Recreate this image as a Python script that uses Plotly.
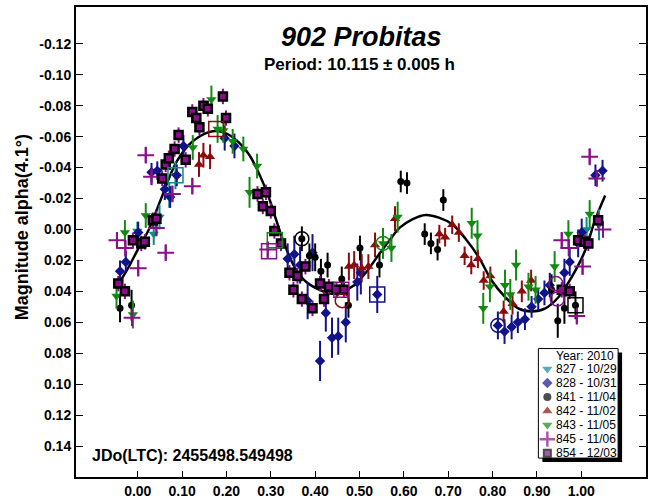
import plotly.graph_objects as go

# session data: (phase, magnitude, error)
s827 = [(-0.001, 0.001, 0.006), (0.036, 0.003, 0.007), (0.049, -0.008, 0.008), (0.071, -0.022, 0.008),
        (0.085, -0.035, 0.009), (1.012, 0.000, 0.008), (1.040, -0.003, 0.010)]

s828 = [(-0.040, 0.027, 0.007), (-0.027, 0.021, 0.007), (0.001, 0.002, 0.007), (0.031, -0.037, 0.006),
        (0.044, -0.038, 0.006), (0.061, -0.026, 0.007), (0.073, -0.021, 0.007), (0.088, -0.035, 0.007),
        (0.103, -0.054, 0.007), (0.196, -0.059, 0.008), (0.218, -0.054, 0.008), (0.338, 0.019, 0.010),
        (0.353, 0.016, 0.012), (0.366, 0.023, 0.012), (0.383, 0.046, 0.012), (0.394, 0.015, 0.012),
        (0.411, 0.085, 0.013), (0.424, 0.054, 0.012), (0.438, 0.070, 0.013), (0.452, 0.069, 0.012),
        (0.469, 0.060, 0.013), (0.495, 0.034, 0.012), (0.503, 0.028, 0.014), (0.540, 0.042, 0.012),
        (0.812, 0.062, 0.009), (0.827, 0.066, 0.008), (0.843, 0.063, 0.008), (0.857, 0.060, 0.007),
        (0.873, 0.058, 0.007), (0.888, 0.050, 0.007), (0.903, 0.045, 0.007), (0.917, 0.041, 0.008),
        (0.929, 0.036, 0.008), (0.962, 0.028, 0.009), (0.974, 0.021, 0.009), (0.993, 0.009, 0.009),
        (1.001, 0.002, 0.009), (1.032, -0.035, 0.007), (1.048, -0.038, 0.007)]

s841 = [(-0.040, 0.051, 0.009), (-0.014, 0.049, 0.010), (0.370, 0.006, 0.008), (0.387, 0.017, 0.008),
        (0.400, 0.018, 0.009), (0.413, 0.027, 0.008), (0.428, 0.023, 0.008), (0.460, 0.032, 0.008),
        (0.475, 0.049, 0.008), (0.501, 0.012, 0.008), (0.545, 0.023, 0.008), (0.593, -0.031, 0.007),
        (0.607, -0.030, 0.007), (0.647, 0.003, 0.007), (0.661, 0.009, 0.007), (0.676, 0.013, 0.007),
        (0.689, -0.019, 0.007), (0.933, 0.039, 0.010), (0.947, 0.059, 0.011), (0.962, 0.051, 0.010),
        (0.987, 0.049, 0.009)]

s842 = [(0.138, -0.042, 0.008), (0.148, -0.048, 0.008), (0.163, -0.047, 0.008), (0.476, 0.024, 0.009),
        (0.488, 0.023, 0.009), (0.505, 0.025, 0.009), (0.520, 0.024, 0.008), (0.535, 0.010, 0.008),
        (0.580, -0.007, 0.008), (0.680, 0.003, 0.006), (0.693, 0.005, 0.006), (0.709, -0.003, 0.006),
        (0.724, 0.002, 0.006), (0.737, 0.017, 0.006), (0.752, 0.023, 0.006), (0.767, 0.019, 0.006),
        (0.780, 0.033, 0.006), (0.795, 0.030, 0.006), (0.825, 0.053, 0.007), (0.845, 0.048, 0.007),
        (0.866, 0.040, 0.007), (0.887, 0.033, 0.007)]

s843 = [(-0.048, 0.043, 0.008), (-0.029, 0.002, 0.008), (-0.011, 0.055, 0.009), (0.018, -0.009, 0.008),
        (0.124, -0.053, 0.008), (0.166, -0.084, 0.009), (0.180, -0.065, 0.009), (0.193, -0.064, 0.008),
        (0.214, -0.057, 0.008), (0.238, -0.052, 0.008), (0.252, -0.024, 0.010), (0.269, -0.041, 0.008),
        (0.553, 0.009, 0.010), (0.572, 0.012, 0.009), (0.586, -0.008, 0.010), (0.753, -0.004, 0.010),
        (0.766, 0.004, 0.010), (0.779, 0.051, 0.010), (0.794, 0.037, 0.010), (0.828, 0.036, 0.010),
        (0.840, 0.042, 0.010), (0.853, 0.023, 0.010), (0.881, 0.037, 0.009), (0.897, 0.039, 0.009),
        (0.940, 0.024, 0.010), (0.971, 0.003, 0.009), (1.019, -0.010, 0.009)]

s845 = [(-0.047, 0.007, 0.005), (-0.028, 0.012, 0.005), (-0.013, 0.057, 0.005), (0.001, 0.025, 0.005),
        (0.018, -0.048, 0.005), (0.031, -0.034, 0.005), (0.042, -0.001, 0.005), (0.063, 0.015, 0.005),
        (0.078, -0.023, 0.005), (0.123, -0.028, 0.005), (0.293, 0.013, 0.005), (0.956, 0.007, 0.005),
        (0.972, 0.012, 0.005), (0.990, 0.056, 0.005), (1.003, 0.024, 0.005), (1.019, -0.047, 0.005),
        (1.035, -0.033, 0.005), (1.049, 0.000, 0.005)]

s854 = [(-0.044, 0.035, 0.005), (-0.029, 0.040, 0.005), (-0.011, 0.007, 0.005), (0.008, 0.009, 0.005),
        (0.016, 0.008, 0.005), (0.034, -0.006, 0.005), (0.042, -0.007, 0.005), (0.055, -0.033, 0.005),
        (0.063, -0.042, 0.005), (0.070, -0.046, 0.005), (0.083, -0.052, 0.005), (0.092, -0.061, 0.005),
        (0.108, -0.045, 0.005), (0.123, -0.076, 0.005), (0.132, -0.072, 0.005), (0.139, -0.066, 0.005),
        (0.148, -0.080, 0.005), (0.158, -0.078, 0.005), (0.192, -0.086, 0.005), (0.199, -0.072, 0.005),
        (0.270, -0.023, 0.005), (0.282, -0.015, 0.005), (0.289, -0.024, 0.005), (0.300, -0.012, 0.005),
        (0.308, 0.001, 0.005), (0.323, 0.009, 0.005), (0.342, 0.028, 0.005), (0.351, 0.039, 0.005),
        (0.360, 0.030, 0.005), (0.370, 0.045, 0.005), (0.378, 0.024, 0.005), (0.394, 0.051, 0.005),
        (0.411, 0.035, 0.005), (0.420, 0.045, 0.005), (0.431, 0.037, 0.005), (0.448, 0.039, 0.005),
        (0.465, 0.039, 0.005), (0.956, 0.039, 0.005), (0.974, 0.040, 0.005), (0.993, 0.007, 0.005),
        (1.008, 0.008, 0.005), (1.016, 0.009, 0.005), (1.038, -0.006, 0.005)]

# larger open marks drawn round some points: (session, phase, magnitude)
box_marks = [("827", 0.085, -0.035), ("842", 0.177, -0.065), ("845", 0.296, 0.014), ("843", 0.309, 0.007),
             ("854", 0.459, 0.039), ("828", 0.540, 0.042), ("841", 0.987, 0.049)]
ring_marks = [("841", 0.370, 0.006), ("842", 0.461, 0.046), ("843", 0.553, 0.009), ("828", 0.812, 0.062),
              ("845", 0.943, 0.035), ("845", 0.946, 0.045)]

# fitted curve
fit_phase = [-0.045, -0.02, 0.0, 0.025, 0.05, 0.088, 0.124, 0.169, 0.20, 0.229, 0.252, 0.29, 0.31, 0.33,
             0.355, 0.38, 0.41, 0.438, 0.461, 0.488, 0.515, 0.544, 0.573, 0.59, 0.619, 0.649, 0.679, 0.709,
             0.739, 0.769, 0.798, 0.828, 0.858, 0.888, 0.919, 0.948, 0.978, 1.009, 1.031, 1.054]
fit_mag = [0.036, 0.024, 0.013, 0.000, -0.018, -0.044, -0.057, -0.0635, -0.062, -0.056, -0.048, -0.025,
           -0.008, 0.009, 0.025, 0.034, 0.039, 0.0415, 0.040, 0.036, 0.0276, 0.016, 0.005, -0.001, -0.0066,
           -0.0094, -0.0077, -0.0034, 0.006, 0.018, 0.033, 0.0436, 0.051, 0.053, 0.051, 0.044, 0.031,
           0.0135, -0.006, -0.022]

sessions = ["827", "828", "841", "842", "843", "845", "854"]
session_dates = ["10/29", "10/31", "11/04", "11/02", "11/05", "11/06", "12/03"]
session_data = [s827, s828, s841, s842, s843, s845, s854]

x_ticks = [0.0, 0.1, 0.2, 0.3, 0.4, 0.5, 0.6, 0.7, 0.8, 0.9, 1.0]
x_labels = ["0.00", "0.10", "0.20", "0.30", "0.40", "0.50", "0.60", "0.70", "0.80", "0.90", "1.00"]
y_ticks = [-0.12, -0.10, -0.08, -0.06, -0.04, -0.02, 0.0, 0.02, 0.04, 0.06, 0.08, 0.10, 0.12, 0.14]
y_labels = ["-0.12", "-0.10", "-0.08", "-0.06", "-0.04", "-0.02", "0.00", "0.02", "0.04", "0.06",
            "0.08", "0.10", "0.12", "0.14"]

# styles
styles = {
    "827": dict(symbol="triangle-down", color="#108a8a", size=9, line=dict(width=0)),
    "828": dict(symbol="diamond", color="#12128a", size=8, line=dict(width=0)),
    "841": dict(symbol="circle", color="black", size=7, line=dict(width=0)),
    "842": dict(symbol="triangle-up", color="#8a0c0c", size=9, line=dict(width=0)),
    "843": dict(symbol="triangle-down", color="#128a12", size=9, line=dict(width=0)),
    "845": dict(symbol="cross-thin", color="#8a108a", size=12, line=dict(width=2, color="#8a108a")),
    "854": dict(symbol="square", color="#8a108a", size=8, line=dict(width=2.5, color="black")),
}
bar_colors = {"827": "#108a8a", "828": "#12128a", "841": "black", "842": "#8a0c0c",
              "843": "#128a12", "845": "#8a108a", "854": "#8a108a"}

FONT = "Arial, Liberation Sans, sans-serif"
W, H = 649, 500
L, R, T, B = 76, 648, 7, 479
X0, X1 = -0.1393, 1.146
YT, YB = -0.1438, 0.160


def dx(p):
    return X0 + (p - L) / (R - L) * (X1 - X0)


def dy(p):
    return YT + (p - T) / (B - T) * (YB - YT)


fig = go.Figure()

fig.add_trace(go.Scatter(x=fit_phase, y=fit_mag, mode="lines", line=dict(color="black", width=2.5, shape="spline"),
                         hoverinfo="skip", showlegend=False))

for sid, data in zip(sessions, session_data):
    xs = [d[0] for d in data]
    ys = [d[1] for d in data]
    es = [d[2] for d in data]
    fig.add_trace(go.Scatter(
        x=xs, y=ys, mode="markers", name=sid, showlegend=False,
        marker=styles[sid],
        error_y=dict(type="data", array=es, color=bar_colors[sid], thickness=2, width=0),
    ))

for sid in sessions:
    bx = [m[1] for m in box_marks if m[0] == sid]
    by = [m[2] for m in box_marks if m[0] == sid]
    rx = [m[1] for m in ring_marks if m[0] == sid]
    ry = [m[2] for m in ring_marks if m[0] == sid]
    if bx:
        fig.add_trace(go.Scatter(x=bx, y=by, mode="markers", showlegend=False,
                                 marker=dict(symbol="square-open", size=15, color=bar_colors[sid],
                                             line=dict(width=1.5, color=bar_colors[sid]))))
    if rx:
        fig.add_trace(go.Scatter(x=rx, y=ry, mode="markers", showlegend=False,
                                 marker=dict(symbol="circle-open", size=14, color=bar_colors[sid],
                                             line=dict(width=1.5, color=bar_colors[sid]))))

# hand-drawn legend box with shadow
box_l, box_r, box_t, box_b = 540, 620, 350, 460
fig.add_shape(type="rect", x0=dx(box_l + 4), x1=dx(box_r + 4), y0=dy(box_t + 4), y1=dy(box_b + 4),
              fillcolor="black", line=dict(width=0), layer="below")
fig.add_shape(type="rect", x0=dx(box_l), x1=dx(box_r), y0=dy(box_t), y1=dy(box_b),
              fillcolor="white", line=dict(width=1, color="black"), layer="below")
fig.add_annotation(x=dx(618), y=dy(357), text="Year: 2010", showarrow=False, xanchor="right",
                   font=dict(family=FONT, size=12, color="black"))
row_y = [370.5 + 14.1 * i for i in range(len(sessions))]
fig.add_trace(go.Scatter(
    x=[dx(549)] * len(sessions), y=[dy(p) for p in row_y], mode="markers", showlegend=False, hoverinfo="skip",
    marker=dict(symbol=[styles[s]["symbol"] for s in sessions],
                color=[styles[s]["color"] for s in sessions],
                size=[9, 8, 8, 9, 9, 11, 7],
                line=dict(width=[0, 0, 0, 0, 0, 2.5, 2],
                          color=[bar_colors[s] if s != "854" else "black" for s in sessions])),
))
for sid, date, p in zip(sessions, session_dates, row_y):
    fig.add_annotation(x=dx(556), y=dy(p), text=f"{sid} - {date}", showarrow=False, xanchor="left",
                       font=dict(family=FONT, size=12, color="black"))

# titles and notes
fig.add_annotation(x=dx(362), y=dy(37), text="<b><i>902 Probitas</i></b>", showarrow=False,
                   font=dict(family=FONT, size=27, color="black"))
fig.add_annotation(x=dx(360), y=dy(65), text="<b>Period: 10.115 ± 0.005 h</b>", showarrow=False,
                   font=dict(family=FONT, size=17, color="black"))
fig.add_annotation(x=dx(90), y=dy(457), text="<b>JDo(LTC): 2455498.549498</b>", showarrow=False,
                   xanchor="left", font=dict(family=FONT, size=16, color="black"))
fig.add_annotation(xref="paper", yref="paper", x=(22 - L) / (R - L), y=(B - 228) / (B - T),
                   xanchor="center", yanchor="middle",
                   text="<b>Magnitude alpha(4.1°)</b>", textangle=-90, showarrow=False,
                   font=dict(family=FONT, size=18, color="black"))

fig.update_layout(
    width=W, height=H,
    margin=dict(l=L, r=W - R, t=T, b=H - B),
    paper_bgcolor="white", plot_bgcolor="white",
    showlegend=False,
    xaxis=dict(range=[X0, X1], tickvals=x_ticks, ticktext=x_labels, ticks="inside", ticklen=6,
               tickcolor="black", showgrid=False, zeroline=False, showline=True, linecolor="black",
               linewidth=2, mirror=True, tickfont=dict(family=FONT, size=14, color="black", weight="bold")),
    yaxis=dict(range=[YB, YT], tickvals=y_ticks, ticktext=y_labels, ticks="inside", ticklen=7,
               tickcolor="black", showgrid=False, zeroline=False, showline=True, linecolor="black",
               linewidth=2, mirror="ticks", tickfont=dict(family=FONT, size=14, color="black", weight="bold")),
)

# the page's default body margin would shift the figure off the window
fig.write_html("out.html", config={"displayModeBar": False},
               post_script="document.body.style.margin='0';document.body.style.overflow='hidden';")
